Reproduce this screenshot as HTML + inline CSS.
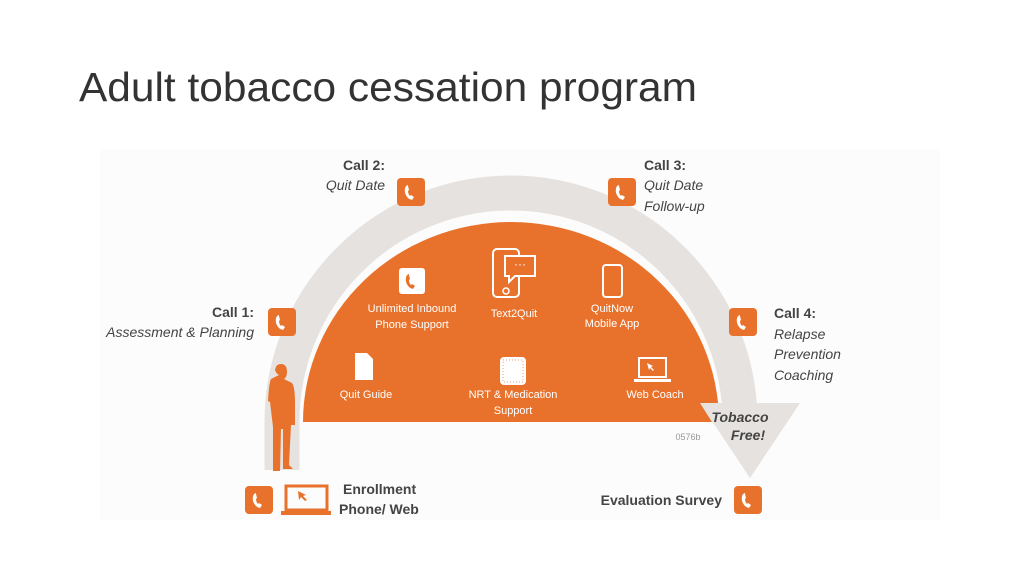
<!DOCTYPE html>
<html><head><meta charset="utf-8"><style>
body{margin:0;width:1024px;height:576px;background:#fff;overflow:hidden;font-family:"Liberation Sans",sans-serif}
</style></head><body>
<svg width="1024" height="576" viewBox="0 0 1024 576" xmlns="http://www.w3.org/2000/svg" font-family="Liberation Sans, sans-serif">
<defs>
<g id="ph"><rect x="0" y="0" width="28" height="28" rx="4" fill="#e8722c"/><path d="M11 7 q-4 1 -3 8 q2 6 7 7 l2 -3 l-3 -2 l-1 1 q-2 -2 -2 -5 l1 -1 l-1 -4 z" fill="#fff"/></g>
<g id="phw"><rect x="0" y="0" width="26" height="26" rx="3" fill="#fff"/><path d="M10 6 q-4 1 -3 8 q2 6 7 7 l2 -3 l-3 -2 l-1 1 q-2 -2 -2 -5 l1 -1 l-1 -4 z" fill="#e8722c"/></g>
</defs>
<text x="79" y="101" font-size="41" fill="#333" textLength="618" lengthAdjust="spacingAndGlyphs">Adult tobacco cessation program</text>
<rect x="100" y="150" width="840" height="370" fill="#fcfcfc"/>
<!-- grey band -->
<path d="M282 470 L282 422 A229 229 0 0 1 740 422 L740 405" fill="none" stroke="#e6e2df" stroke-width="35"/>
<polygon points="700,403 800,403 750,478" fill="#e6e2df"/>
<!-- orange dome -->
<path d="M303 422 A208 200 0 0 1 719 422 Z" fill="#e8722c"/>
<path d="M700 403 L719 403 L719 422 L712 422 Z" fill="#e6e2df"/>
<text x="740" y="422" font-size="14" font-weight="bold" font-style="italic" fill="#444" text-anchor="middle">Tobacco</text>
<text x="748" y="440" font-size="14" font-weight="bold" font-style="italic" fill="#444" text-anchor="middle">Free!</text>
<text x="688" y="440" font-size="9" fill="#999" text-anchor="middle">0576b</text>
<!-- inner icons -->
<use href="#phw" x="399" y="268"/>
<text x="412" y="312" font-size="11" fill="#fff" text-anchor="middle">Unlimited Inbound</text>
<text x="412" y="328" font-size="11" fill="#fff" text-anchor="middle">Phone Support</text>
<rect x="493" y="249" width="26" height="48" rx="4" fill="none" stroke="#fff" stroke-width="2"/>
<circle cx="506" cy="291" r="3" fill="none" stroke="#fff" stroke-width="1.5"/>
<path d="M505 256 h30 v20 h-20 l-6 6 v-6 h-4 z" fill="#e8722c" stroke="#fff" stroke-width="2"/>
<text x="520" y="268" font-size="12" fill="#fff" text-anchor="middle">···</text>
<text x="514" y="317" font-size="11" fill="#fff" text-anchor="middle">Text2Quit</text>
<rect x="603" y="265" width="19" height="32" rx="3" fill="none" stroke="#fff" stroke-width="2"/>
<text x="612" y="312" font-size="11" fill="#fff" text-anchor="middle">QuitNow</text>
<text x="612" y="327" font-size="11" fill="#fff" text-anchor="middle">Mobile App</text>
<path d="M355 353 h12 l6 6 v21 h-18 z" fill="#fff"/>
<text x="366" y="398" font-size="11" fill="#fff" text-anchor="middle">Quit Guide</text>
<rect x="500" y="357" width="26" height="28" rx="4" fill="#fff"/>
<rect x="503" y="360" width="20" height="22" fill="none" stroke="#e8a070" stroke-dasharray="1,2"/>
<text x="513" y="398" font-size="11" fill="#fff" text-anchor="middle">NRT &amp; Medication</text>
<text x="513" y="414" font-size="11" fill="#fff" text-anchor="middle">Support</text>
<rect x="639" y="358" width="27" height="19" fill="none" stroke="#fff" stroke-width="2"/>
<rect x="634" y="379" width="37" height="3" fill="#fff"/>
<path d="M647 363 l6 3 l-2 1 l3 3 l-1 1 l-3 -3 l-1 2 z" fill="#fff"/>
<text x="655" y="398" font-size="11" fill="#fff" text-anchor="middle">Web Coach</text>
<!-- calls -->
<use href="#ph" x="397" y="178"/>
<text x="385" y="170" font-size="14" font-weight="bold" fill="#444" text-anchor="end">Call 2:</text>
<text x="385" y="190" font-size="14" font-style="italic" fill="#444" text-anchor="end">Quit Date</text>
<use href="#ph" x="608" y="178"/>
<text x="644" y="170" font-size="14" font-weight="bold" fill="#444">Call 3:</text>
<text x="644" y="190" font-size="14" font-style="italic" fill="#444">Quit Date</text>
<text x="644" y="211" font-size="14" font-style="italic" fill="#444">Follow-up</text>
<use href="#ph" x="268" y="308"/>
<text x="254" y="317" font-size="14" font-weight="bold" fill="#444" text-anchor="end">Call 1:</text>
<text x="254" y="337" font-size="14" font-style="italic" fill="#444" text-anchor="end">Assessment &amp; Planning</text>
<use href="#ph" x="729" y="308"/>
<text x="774" y="318" font-size="14" font-weight="bold" fill="#444">Call 4:</text>
<text x="774" y="339" font-size="14" font-style="italic" fill="#444">Relapse</text>
<text x="774" y="359" font-size="14" font-style="italic" fill="#444">Prevention</text>
<text x="774" y="380" font-size="14" font-style="italic" fill="#444">Coaching</text>
<!-- person -->
<path d="M275 372 q0 -8 6 -8 q6 0 6 8 q0 5 -3 7 l8 4 q3 4 3 20 l0 22 l-4 0 l-2 40 l4 4 l-10 0 l0 -40 l-2 0 l-1 42 l-7 0 l0 -44 l-3 -25 l-2 -1 q1 -18 3 -22 l8 -4 q-4 -2 -4 -7z" fill="#e8722c"/>
<!-- bottom -->
<use href="#ph" x="245" y="486"/>
<rect x="286" y="486" width="41" height="24" fill="none" stroke="#e8722c" stroke-width="3"/>
<rect x="281" y="511" width="50" height="4" fill="#e8722c"/>
<path d="M298 491 l8 4 l-3 1 l4 4 l-2 1 l-4 -4 l-2 3 z" fill="#e8722c"/>
<text x="343" y="494" font-size="14" font-weight="bold" fill="#444">Enrollment</text>
<text x="339" y="514" font-size="14" font-weight="bold" fill="#444">Phone/ Web</text>
<text x="722" y="505" font-size="14" font-weight="bold" fill="#444" text-anchor="end">Evaluation Survey</text>
<use href="#ph" x="734" y="486"/>
</svg>
</body></html>
